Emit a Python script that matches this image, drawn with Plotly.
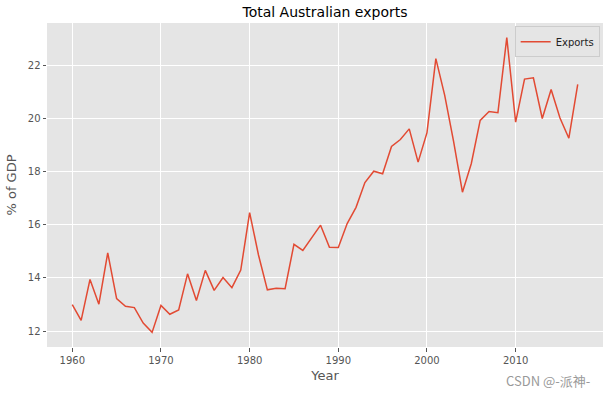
import plotly.graph_objects as go

years = list(range(1960, 2018))
exports = [12.99, 12.40, 13.94, 13.01, 14.94, 13.22, 12.93, 12.88, 12.30, 11.95,
           12.96, 12.63, 12.79, 14.15, 13.15, 14.28, 13.53, 14.01, 13.63, 14.29,
           16.45, 14.86, 13.55, 13.61, 13.59, 15.26, 15.03, 15.51, 15.98, 15.15,
           15.14, 16.04, 16.65, 17.58, 18.01, 17.91, 18.94, 19.20, 19.60, 18.35,
           19.46, 22.24, 20.86, 19.13, 17.22, 18.30, 19.92, 20.25, 20.21, 23.03,
           19.85, 21.47, 21.52, 19.99, 21.08, 20.01, 19.25, 21.27]
x_ticks = [1960, 1970, 1980, 1990, 2000, 2010]
y_ticks = [12, 14, 16, 18, 20, 22]

fig = go.Figure()
fig.add_trace(go.Scatter(x=years, y=exports, mode="lines", name="Exports",
                         line=dict(color="#E24A33", width=1.5)))

font = "DejaVu Sans"
fig.update_layout(
    width=607, height=395,
    margin=dict(l=47, r=4, t=23, b=48, autoexpand=False),
    paper_bgcolor="white", plot_bgcolor="#E5E5E5",
    font=dict(family=font, color="#555555", size=10),
    title=dict(text="Total Australian exports", x=0.5, xref="paper", xanchor="center",
               y=0.97, yanchor="middle", font=dict(size=14, color="black", family=font)),
    showlegend=True,
    legend=dict(x=0.994, y=0.99, xanchor="right", yanchor="top",
                bgcolor="rgba(229,229,229,0.8)", bordercolor="#CCCCCC", borderwidth=1,
                itemwidth=30, tracegroupgap=0,
                font=dict(size=10, color="#222222")),
    xaxis=dict(range=[1957.15, 2019.85], tickvals=x_ticks, gridcolor="white",
               gridwidth=1, showline=False, zeroline=False, ticks="outside",
               ticklen=3.5, tickcolor="#555555", automargin=False,
               title=dict(text="Year", font=dict(size=13, color="#555555"), standoff=6)),
    yaxis=dict(range=[11.40, 23.58], tickvals=y_ticks, gridcolor="white",
               gridwidth=1, showline=False, zeroline=False, ticks="outside",
               ticklen=3.5, tickcolor="#555555", automargin=False,
               title=dict(text="% of GDP", font=dict(size=13, color="#555555"), standoff=8)),
)
fig.add_annotation(text="CSDN @-派神-", xref="paper", yref="paper",
                   x=0.98, y=-0.102, xanchor="right", yanchor="middle",
                   showarrow=False,
                   font=dict(size=13, color="#999999", family="Noto Sans CJK SC"))
fig.write_html("out.html", config={"displayModeBar": False},
               post_script="document.body.style.margin='0';")
